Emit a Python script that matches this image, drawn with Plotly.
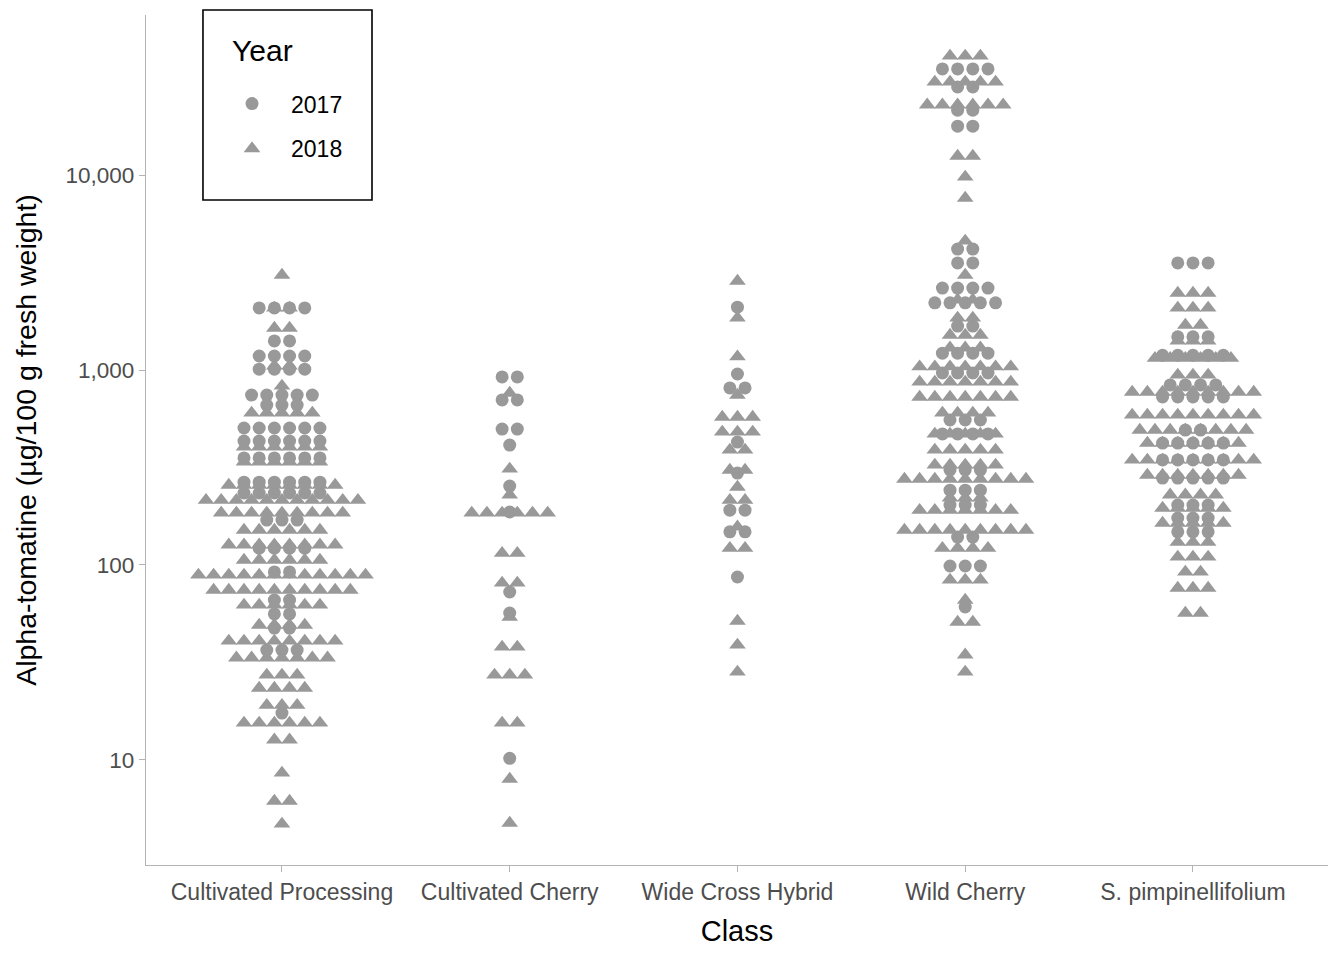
import plotly.graph_objects as go

classes = ["Cultivated Processing", "Cultivated Cherry", "Wide Cross Hybrid",
           "Wild Cherry", "S. pimpinellifolium"]
years = ["2017", "2018"]

# alpha-tomatine (ug/100 g fresh weight), binned as in the dot plot, and how many dots per bin
proc_2017_vals = [2080, 1410, 1180, 1010, 744, 661, 504, 432, 354, 266, 234, 170, 122,
                  92.1, 66.1, 56.1, 47.5, 36.6, 17.4]
proc_2017_counts = [4, 2, 4, 4, 5, 3, 6, 6, 6, 6, 6, 3, 4, 2, 2, 2, 2, 3, 1]
proc_2018_vals = [3070, 2080, 1640, 1050, 828, 602, 403, 338, 257, 215, 185, 151, 127, 106,
                  88.9, 74.4, 62.4, 49.2, 40.8, 33.4, 27.3, 23.4, 19.1, 15.5, 12.7, 8.58,
                  6.16, 4.70]
proc_2018_counts = [1, 2, 2, 2, 1, 5, 6, 6, 8, 11, 9, 6, 8, 6, 12, 10, 6, 4, 8, 7, 3, 4, 3,
                    6, 2, 1, 2, 1]

cherry_2017_vals = [921, 702, 498, 412, 254, 187, 72.7, 56.7, 10.2]
cherry_2017_counts = [2, 2, 2, 1, 1, 1, 1, 1, 1]
cherry_2018_vals = [762, 311, 229, 185, 115, 80.9, 54.1, 38.0, 27.3, 15.5, 7.99, 4.75]
cherry_2018_counts = [1, 1, 1, 6, 2, 2, 1, 2, 3, 2, 1, 1]

hybrid_2017_vals = [2100, 954, 809, 427, 296, 191, 148, 86.8]
hybrid_2017_counts = [1, 1, 2, 1, 1, 2, 2, 1]
hybrid_2018_vals = [2860, 1850, 1170, 744, 574, 481, 389, 307, 251, 215, 157, 122, 51.6,
                    38.9, 28.3]
hybrid_2018_counts = [1, 1, 1, 1, 3, 3, 2, 2, 1, 2, 1, 2, 1, 1, 1]

wild_2017_vals = [35000, 28300, 21500, 17800, 4170, 3540, 2630, 2210, 1680, 1220, 965,
                  554, 470, 307, 242, 203, 139, 98.8, 60.9]
wild_2017_counts = [4, 2, 2, 2, 2, 2, 4, 5, 2, 4, 4, 3, 4, 3, 3, 3, 2, 3, 1]
wild_2018_vals = [40800, 30000, 22900, 12500, 9770, 7620, 4590, 3070, 2290, 1850, 1510,
                  1300, 1040, 868, 727, 602, 470, 389, 326, 276, 221, 191, 151, 122, 83.8,
                  66.1, 51.0, 34.6, 28.3]
wild_2018_counts = [3, 5, 6, 2, 1, 1, 1, 1, 2, 2, 3, 3, 7, 7, 7, 4, 5, 5, 5, 9, 3, 7, 9, 4,
                    3, 1, 2, 1, 1]

pimp_2017_vals = [3540, 1480, 1190, 838, 727, 492, 422, 346, 279, 203, 174, 148]
pimp_2017_counts = [3, 3, 5, 4, 5, 2, 5, 5, 5, 3, 3, 3]
pimp_2018_vals = [2480, 2080, 1700, 1410, 1150, 943, 771, 588, 492, 422, 346, 289, 229,
                  196, 164, 131, 110, 92.1, 76.2, 56.7]
pimp_2018_counts = [3, 3, 2, 3, 6, 3, 9, 9, 8, 7, 9, 7, 4, 5, 5, 3, 3, 2, 3, 2]

groups = {
    "2017": [(proc_2017_vals, proc_2017_counts), (cherry_2017_vals, cherry_2017_counts),
             (hybrid_2017_vals, hybrid_2017_counts), (wild_2017_vals, wild_2017_counts),
             (pimp_2017_vals, pimp_2017_counts)],
    "2018": [(proc_2018_vals, proc_2018_counts), (cherry_2018_vals, cherry_2018_counts),
             (hybrid_2018_vals, hybrid_2018_counts), (wild_2018_vals, wild_2018_counts),
             (pimp_2018_vals, pimp_2018_counts)],
}
symbols = {"2017": "circle", "2018": "triangle-up"}
sizes = {"2017": 13, "2018": 14.5}

STEP = 0.0667  # horizontal distance between stacked dots, in category units
GREY = "#999999"
FONT = "Liberation Sans, Arial, sans-serif"


def stack(i, vals, counts):
    # centred dot stacks, one row per bin
    xs, ys = [], []
    for v, n in zip(vals, counts):
        for k in range(n):
            xs.append(i + (k - (n - 1) / 2) * STEP)
            ys.append(v)
    return xs, ys


fig = go.Figure()
for year in years:
    xs, ys = [], []
    for i, (vals, counts) in enumerate(groups[year]):
        x, y = stack(i, vals, counts)
        xs += x
        ys += y
    fig.add_trace(go.Scatter(x=xs, y=ys, mode="markers", name=year, legendgroup=year,
                             marker=dict(symbol=symbols[year], size=sizes[year],
                                         color=GREY, line=dict(width=0))))

# the page has an 8 px body margin, so the figure is a bit smaller than the window
fig.update_layout(
    width=1336, height=952,
    margin=dict(l=138, r=16, t=7, b=95),
    paper_bgcolor="white", plot_bgcolor="white",
    font=dict(family=FONT, size=22, color="black"),
    legend=dict(font=dict(size=23), x=0.0567, y=0.921, xanchor="left", yanchor="top",
                bgcolor="rgba(0,0,0,0)", traceorder="grouped", tracegroupgap=12,
                itemwidth=68),
    shapes=[dict(type="rect", xref="paper", yref="paper",
                 x0=0.0482, x1=0.1912, y0=0.7824, y1=1.0059,
                 line=dict(color="black", width=1.6))],
    annotations=[dict(text="Year", xref="paper", yref="paper", x=0.071, y=0.9588,
                      xanchor="left", yanchor="middle", showarrow=False,
                      font=dict(size=30, color="black"))],
)
fig.update_xaxes(
    range=[-0.597, 4.593], tickvals=list(range(len(classes))), ticktext=classes,
    showline=True, linecolor="#b3b3b3", linewidth=1.2, ticks="outside", ticklen=6,
    tickcolor="#b3b3b3", showgrid=False, zeroline=False,
    tickfont=dict(size=23, color="#4d4d4d"),
    title=dict(text="Class", font=dict(size=29), standoff=16),
)
fig.update_yaxes(
    type="log", range=[0.4615, 4.8205],
    tickvals=[10, 100, 1000, 10000], ticktext=["10", "100", "1,000", "10,000"],
    showline=True, linecolor="#b3b3b3", linewidth=1.2, ticks="outside", ticklen=6,
    tickcolor="#b3b3b3", showgrid=False, zeroline=False,
    tickfont=dict(size=22.5, color="#4d4d4d"),
    title=dict(text="Alpha-tomatine (µg/100 g fresh weight)", font=dict(size=28.5),
               standoff=20),
)

fig.write_html("out.html")
